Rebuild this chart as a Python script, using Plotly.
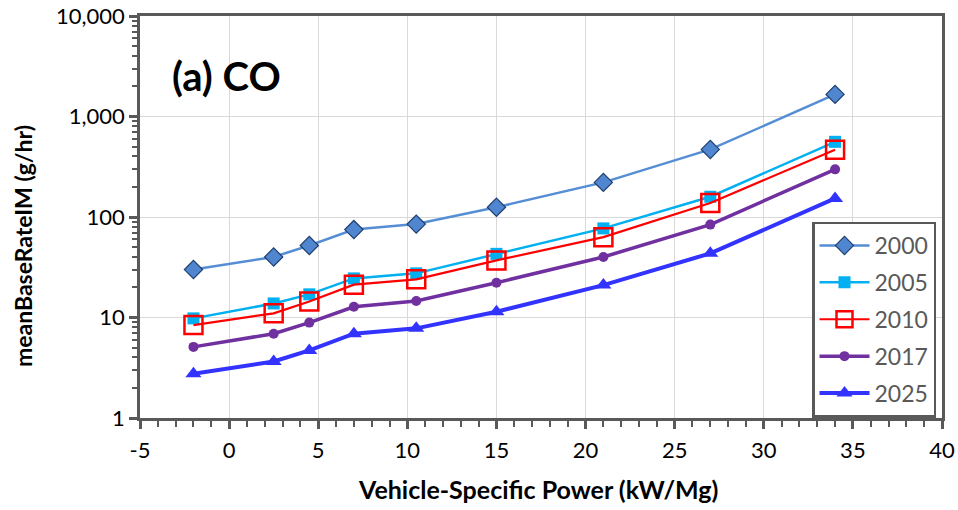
import plotly.graph_objects as go

vsp = [-2, 2.5, 4.5, 7, 10.5, 15, 21, 27, 34]
co_2000 = [30, 40, 52, 75, 85, 125, 221, 470, 1660]
co_2005 = [9.8, 13.8, 17, 24.5, 27.5, 43, 77, 159, 560]
co_2010 = [8.4, 11, 14.4, 21.2, 24, 37, 63, 138, 467]
co_2017 = [5.1, 6.9, 8.9, 12.8, 14.6, 22.2, 40, 84, 298]
co_2025 = [2.75, 3.65, 4.7, 6.9, 7.8, 11.4, 21, 43.5, 153]

y_tickvals = [1, 10, 100, 1000, 10000]
y_ticktext = ["1", "10", "100", "1,000", "10,000"]
x_tickvals = [-5, 0, 5, 10, 15, 20, 25, 30, 35, 40]
x_ticktext = ["-5", "0", "5", "10", "15", "20", "25", "30", "35", "40"]

FONT = "Lato, 'Open Sans', sans-serif"
AX = "#595959"
GRID = "#D9D9D9"

y_minor = [m * 10 ** e for e in range(4) for m in range(2, 10)]

series = [
    ("2000", co_2000, dict(color="#558ED5", width=2.5), dict(symbol="diamond", size=14, color="#4F86CF", line=dict(color="#1F3E6E", width=1.2))),
    ("2005", co_2005, dict(color="#00B0F0", width=2.5), dict(symbol="square", size=12, color="#00B0F0", line=dict(width=0))),
    ("2010", co_2010, dict(color="#FF0000", width=2.2), dict(symbol="square-open", size=18, color="#FF0000", line=dict(width=2.5))),
    ("2017", co_2017, dict(color="#7030A0", width=3.5), dict(symbol="circle", size=10, color="#7030A0", line=dict(width=0))),
    ("2025", co_2025, dict(color="#3333FF", width=4), dict(symbol="triangle-up", size=14, color="#3333FF", line=dict(width=0))),
]

fig = go.Figure()
for name, vals, ln, mk in series:
    fig.add_trace(go.Scatter(x=vsp, y=vals, name=name, mode="lines+markers",
                             line=ln, marker=mk, legendgroup=name))

W, H = 958, 510
ML, MR, MT, MB = 140, 16, 16, 92
plot_w, plot_h = W - ML - MR, H - MT - MB

fig.update_layout(
    width=W, height=H,
    margin=dict(l=ML, r=MR, t=MT, b=MB),
    plot_bgcolor="white", paper_bgcolor="white",
    font=dict(family=FONT, size=22, color="black"),
    showlegend=True,
    legend=dict(x=(812 - ML) / plot_w, y=(418 - 319.5) / plot_h, xanchor="left", yanchor="middle",
                bordercolor=AX, borderwidth=2.5, bgcolor="white",
                font=dict(size=23, color="#595959"), tracegroupgap=4, itemwidth=50),
    xaxis=dict(range=[-5, 40], tickvals=x_tickvals, ticktext=x_ticktext,
               showgrid=True, gridcolor=GRID, gridwidth=1.2,
               showline=True, linecolor=AX, linewidth=2.5, mirror=True, automargin=False,
               ticks="outside", ticklen=8, tickwidth=2.5, tickcolor=AX, ticklabelstandoff=3,
               minor=dict(dtick=1, ticks="outside", ticklen=6, tickwidth=2, tickcolor=AX, showgrid=False),
               zeroline=False),
    yaxis=dict(type="log", range=[0, 4], tickvals=y_tickvals, ticktext=y_ticktext,
               showgrid=True, gridcolor=GRID, gridwidth=1.2,
               showline=True, linecolor=AX, linewidth=2.5, mirror=True, automargin=False,
               ticks="outside", ticklen=8, tickwidth=2.5, tickcolor=AX, ticklabelstandoff=0,
               minor=dict(tickvals=y_minor, ticks="outside", ticklen=5, tickwidth=1.5, tickcolor=AX, showgrid=False),
               zeroline=False),
    xaxis2=dict(range=[-5, 40], tickvals=x_tickvals, overlaying="x", anchor="y", side="bottom",
                showgrid=False, showticklabels=False, ticks="inside", ticklen=8, tickwidth=2.5,
                tickcolor=AX, zeroline=False, showline=False, automargin=False),
    yaxis2=dict(type="log", range=[0, 4], tickvals=y_tickvals, overlaying="y", anchor="x", side="left",
                showgrid=False, showticklabels=False, ticks="inside", ticklen=8, tickwidth=2.5,
                tickcolor=AX, zeroline=False, showline=False, automargin=False),
    annotations=[
        dict(text="<b>(a) CO</b>", x=30 / plot_w, y=(418 - 76) / plot_h, xref="paper", yref="paper",
             xanchor="left", yanchor="middle", showarrow=False,
             font=dict(size=40, color="black", family=FONT)),
        dict(text="<b>Vehicle-Specific Power (kW/Mg)</b>", x=(538 - ML) / plot_w, y=-(489 - 418) / plot_h,
             xref="paper", yref="paper", xanchor="center", yanchor="middle",
             showarrow=False, font=dict(size=25, color="black", family=FONT)),
        dict(text="<b>meanBaseRateIM (g/hr)</b>", x=-(ML - 23) / plot_w, y=(418 - 246) / plot_h,
             xref="paper", yref="paper", xanchor="center", yanchor="middle",
             showarrow=False, textangle=-90, font=dict(size=23, color="black", family=FONT)),
    ],
)

fig.write_html("out.html", config={"displayModeBar": False},
               post_script="document.body.style.margin='0';")
